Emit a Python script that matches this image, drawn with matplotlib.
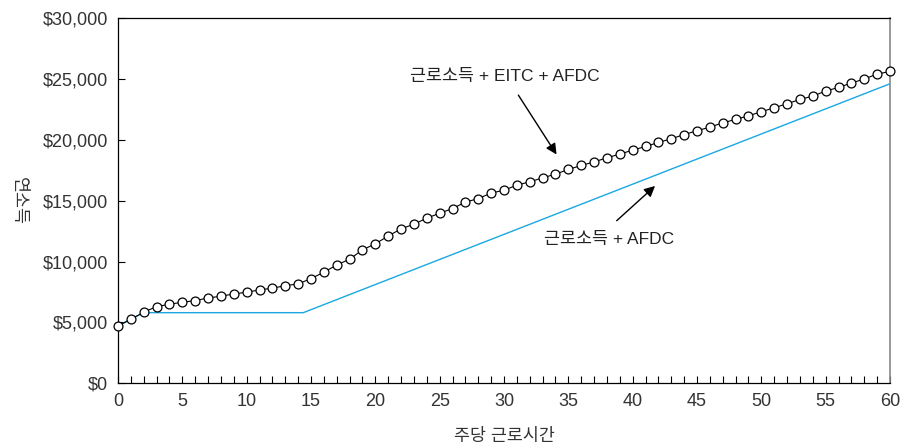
import numpy as np
import matplotlib.pyplot as plt
from matplotlib.ticker import MultipleLocator, FuncFormatter

plt.rcParams['font.family'] = ['Liberation Sans', 'Noto Sans CJK KR', 'DejaVu Sans']

# 주당 근로시간 (0~60시간)
hours = list(range(0, 61))
# 근로소득 + EITC + AFDC (연소득, 달러)
income_eitc = [
    4710, 5260, 5840, 6300, 6490, 6660, 6790, 7010, 7150, 7340,
    7480, 7670, 7810, 8020, 8160, 8600, 9120, 9720, 10190, 10960,
    11450, 12100, 12680, 13070, 13560, 13970, 14350, 14880, 15170, 15620,
    15860, 16270, 16550, 16870, 17180, 17560, 17890, 18180, 18520, 18820,
    19150, 19450, 19780, 20080, 20430, 20740, 21040, 21390, 21670, 21970,
    22300, 22630, 22960, 23310, 23590, 24000, 24300, 24660, 24990, 25400,
    25610,
]
# 근로소득 + AFDC (꺾이는 점)
afdc_hours = [0, 1, 2, 14.4, 60]
afdc_income = [4710, 5260, 5800, 5800, 24600]

fig = plt.figure(figsize=(9.02, 4.46), dpi=100)
ax = fig.add_axes([0.1308, 0.1406, 0.8559, 0.819])

ax.plot(afdc_hours, afdc_income, color='#1aa7e2', lw=1.0, zorder=2)
ax.plot(hours, income_eitc, color='black', lw=0.8, marker='o', ms=6.4,
        mfc='white', mec='black', mew=0.9, zorder=3, clip_on=False)

ax.set_xlim(0, 60)
ax.set_ylim(0, 30000)
ax.xaxis.set_major_locator(MultipleLocator(5))
ax.xaxis.set_minor_locator(MultipleLocator(1))
ax.yaxis.set_major_locator(MultipleLocator(5000))
ax.yaxis.set_major_formatter(FuncFormatter(lambda v, p: f'${v:,.0f}'))

ax.tick_params(axis='x', which='both', direction='in', top=False, length=5,
               width=0.8, labelsize=13, labelcolor='#333333', pad=7)
ax.tick_params(axis='y', which='both', direction='in', right=False, length=5,
               width=0.8, labelsize=13, labelcolor='#333333', pad=7)
for s in ['left', 'bottom', 'top']:
    ax.spines[s].set_color('black')
    ax.spines[s].set_linewidth(0.9)
ax.spines['right'].set_color('#888888')
ax.spines['right'].set_linewidth(1.2)

ax.set_xlabel('주당 근로시간', fontsize=12.5, color='#333333', labelpad=13)
ax.set_ylabel('연소득', fontsize=12.5, color='#333333', rotation=270,
              va='center')
ax.yaxis.set_label_coords(-0.128, 0.5)

arrow = dict(arrowstyle='-|>', color='black', lw=1.0, mutation_scale=16)
ax.annotate('', xy=(34.2, 18600), xytext=(31.0, 23860), arrowprops=arrow)
ax.text(30.07, 25170, '근로소득 + EITC + AFDC', fontsize=12.5, color='#222222',
        ha='center', va='center')
ax.annotate('', xy=(41.9, 16360), xytext=(38.6, 13200), arrowprops=arrow)
ax.text(38.15, 11780, '근로소득 + AFDC', fontsize=12.5, color='#222222',
        ha='center', va='center')

fig.savefig('out.png', dpi=100)
